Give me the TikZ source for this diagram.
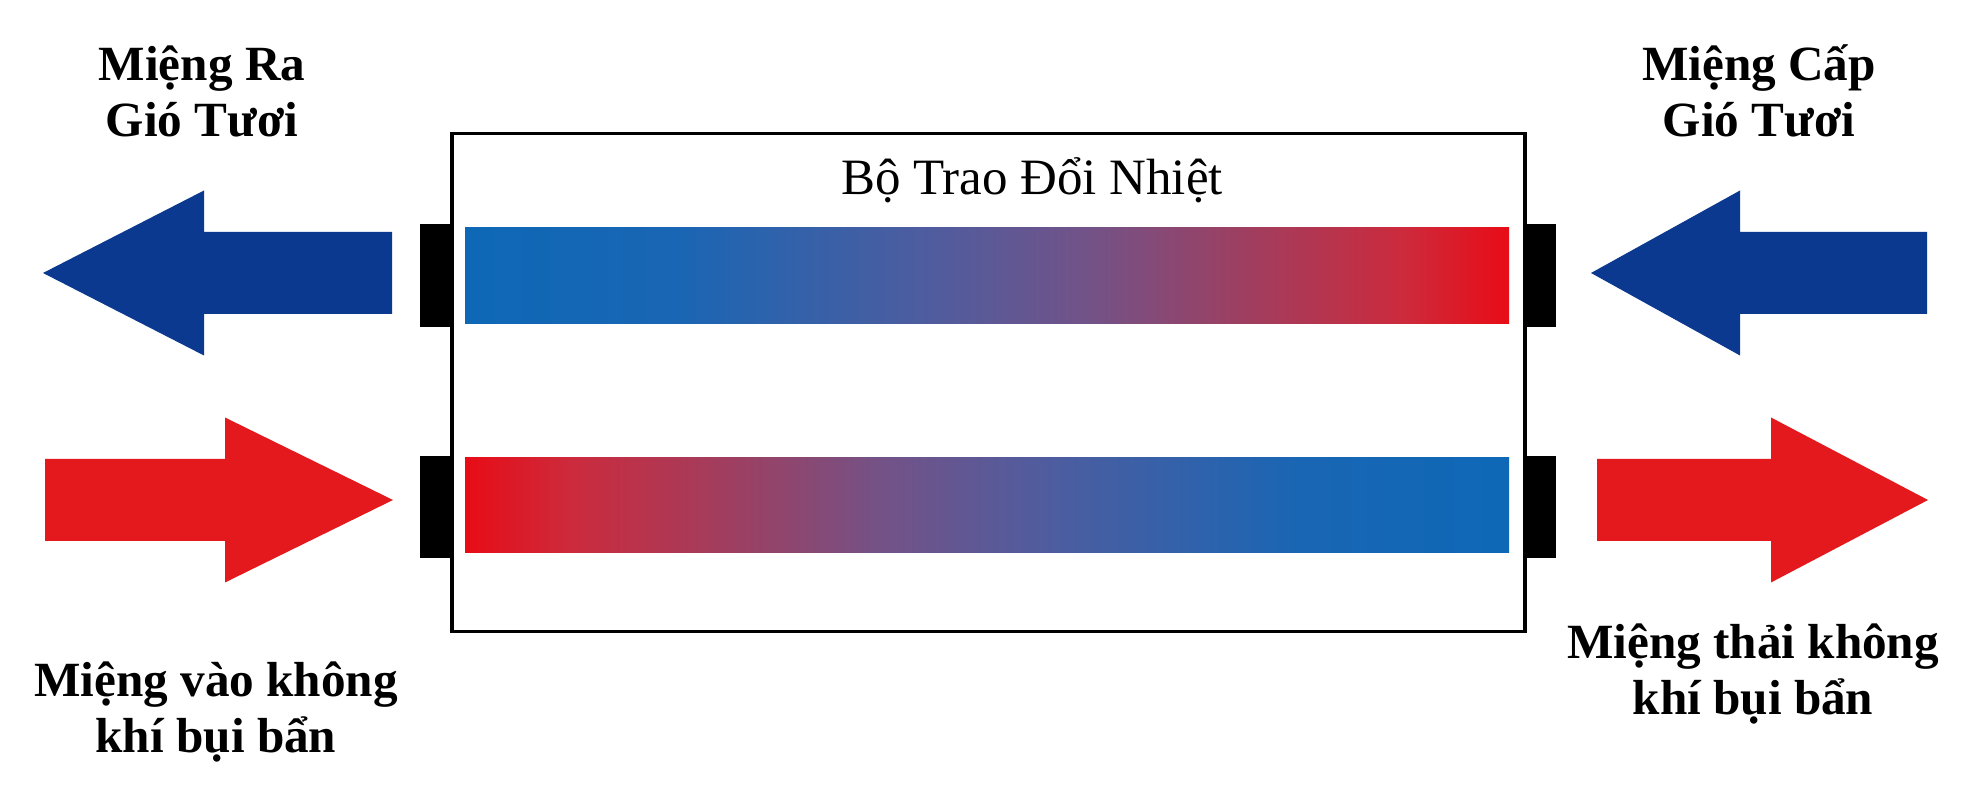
\documentclass[tikz,border=0pt]{standalone}
\usepackage{fontspec}
\setmainfont{Liberation Serif}
\usepackage{xcolor}
\definecolor{airBlue}{RGB}{10,57,143}
\definecolor{airRed}{RGB}{228,25,30}

% blue -> purple -> red along the exchanger plates
\pgfdeclarehorizontalshading{heatShade}{100bp}{%
	rgb(0bp)=(0.055,0.408,0.714);
	rgb(25bp)=(0.055,0.408,0.714);
	rgb(35bp)=(0.098,0.4,0.706);
	rgb(47.5bp)=(0.314,0.361,0.62);
	rgb(55bp)=(0.451,0.322,0.529);
	rgb(62.5bp)=(0.627,0.243,0.373);
	rgb(70bp)=(0.804,0.165,0.235);
	rgb(75bp)=(0.91,0.047,0.086);
	rgb(100bp)=(0.91,0.047,0.086)}

% #1 colour, #2 tail x, #3 head base x, #4 tip x, #5 centre y
\newcommand{\flowarrow}[5]{%
	\fill[#1] (#2,#5+0.82) -- (#3,#5+0.82) -- (#3,#5+1.65) -- (#4,#5)
		-- (#3,#5-1.65) -- (#3,#5-0.82) -- (#2,#5-0.82) -- cycle;}

\begin{document}
\begin{tikzpicture}
\tikzstyle{tab} = [
	fill=black, %duct flange
	draw=none
];
\tikzstyle{plate} = [
	shading=heatShade,
	draw=none
];
\tikzstyle{port} = [
	font=\bfseries\fontsize{28}{31.9}\selectfont,
	align=center,
	anchor=base, %base of the last line
	inner sep=0pt
];

\useasboundingbox[fill=white] (0,0) rectangle (39.34,16);

\begin{scope}[scale=1.0,shift={(0,0)}]
	% exchanger body
	\fill[tab] (8.4,9.46) rectangle (9.04,11.52);
	\fill[tab] (8.4,4.84) rectangle (9.04,6.88);
	\fill[tab] (30.5,9.46) rectangle (31.12,11.52);
	\fill[tab] (30.5,4.84) rectangle (31.12,6.88);
	\draw[line width=1.9pt] (9.04,3.37) rectangle (30.5,13.33);
	\fill[plate] (9.3,9.52) rectangle (30.18,11.44);
	\fill[plate, shading angle=180] (9.3,4.94) rectangle (30.18,6.84);
	\node[inner sep=0pt, anchor=base, font=\fontsize{29}{34}\selectfont](HX) at (20.64, 12.1) {Bộ Trao Đổi Nhiệt};
\end{scope}

% air streams
\flowarrow{airBlue}{7.84}{4.08}{0.86}{10.54}
\flowarrow{airBlue}{38.54}{34.8}{31.82}{10.54}
\flowarrow{airRed}{0.9}{4.5}{7.86}{6.0}
\flowarrow{airRed}{31.94}{35.42}{38.56}{6.0}

\node[port](OutFresh) at (4.04, 13.26) {Miệng Ra\\Gió Tươi};
\node[port](InFresh) at (35.18, 13.26) {Miệng Cấp\\Gió Tươi};
\node[port](InDirty) at (4.32, 0.94) {Miệng vào không\\khí bụi bẩn};
\node[port](OutDirty) at (35.06, 1.7) {Miệng thải không\\khí bụi bẩn};

\end{tikzpicture}
\end{document}
